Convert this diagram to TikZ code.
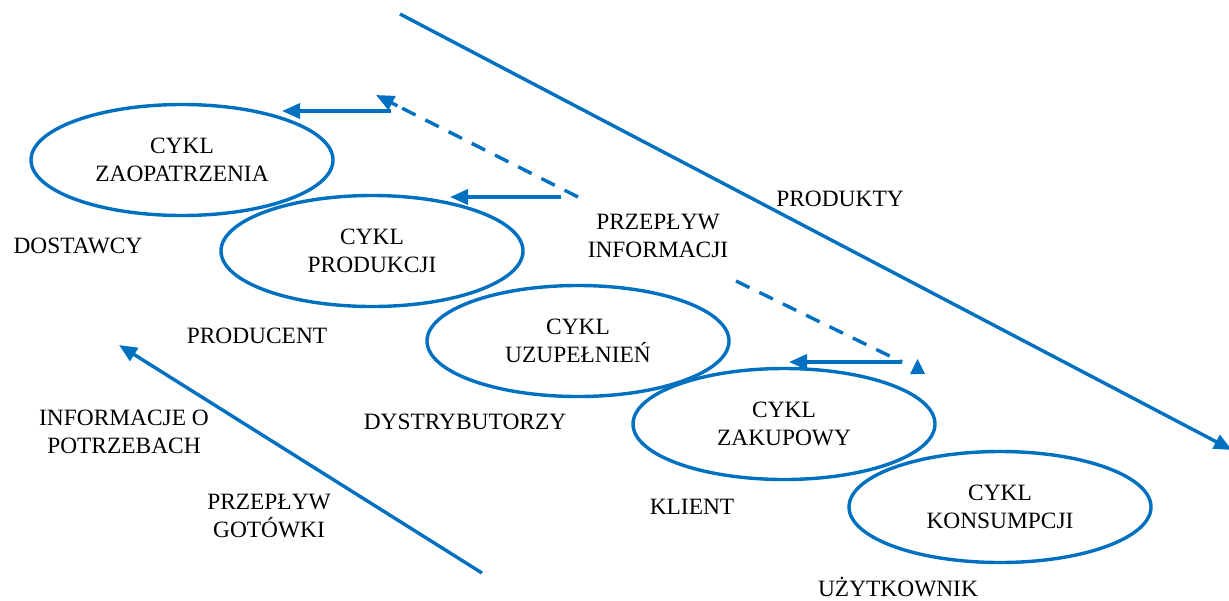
\documentclass[tikz,border=0pt]{standalone}
\usepackage{fontspec}
\setmainfont{Liberation Serif}
\usetikzlibrary{shapes.geometric,arrows.meta,calc}
\definecolor{flowblue}{RGB}{0,112,192}
\begin{document}
\begin{tikzpicture}[x=0.5pt,y=-0.5pt,
  txt/.style={font=\fontsize{11.7}{14}\selectfont, align=center, inner sep=0pt, text=black},
  cycle/.style={ellipse, draw=flowblue, line width=1.7pt, minimum width=151pt, minimum height=55.5pt, inner sep=0pt, txt},
  flow/.style={draw=flowblue, line width=1.7pt, -{Triangle[length=9pt,width=7.5pt]}},
  dashline/.style={draw=flowblue, line width=1.7pt, dash pattern=on 7.5pt off 5.5pt}
]
\useasboundingbox (0,0) rectangle (1229,600);

% cycles along the chain
\node[cycle] (zaop) at (182,160) {CYKL\\ZAOPATRZENIA};
\node[cycle] (prod) at (372,251) {CYKL\\PRODUKCJI};
\node[cycle] (uzup) at (578,341) {CYKL\\UZUPEŁNIEŃ};
\node[cycle] (zak)  at (784,424) {CYKL\\ZAKUPOWY};
\node[cycle] (kons) at (1000,507) {CYKL\\KONSUMPCJI};

% participants and flow labels
\node[txt] (dost)  at (78,246)  {DOSTAWCY};
\node[txt] (prodc) at (257,336) {PRODUCENT};
\node[txt] (dystr) at (465,422) {DYSTRYBUTORZY};
\node[txt] (klient) at (692,507) {KLIENT};
\node[txt] (uzytk) at (898,587) {UŻYTKOWNIK};
\node[txt] (produkty) at (840,199) {PRODUKTY};
\node[txt] (info) at (658,236) {PRZEPŁYW\\INFORMACJI};
\node[txt] (potrz) at (124,432) {INFORMACJE O\\POTRZEBACH};
\node[txt] (gotow) at (269,516) {PRZEPŁYW\\GOTÓWKI};

% end points of the flows
\coordinate (a1s) at (391,111);  \coordinate (a1e) at (282,111);
\coordinate (a2s) at (561,197);  \coordinate (a2e) at (450,197);
\coordinate (d1s) at (578,197);  \coordinate (d1e) at (376,95);
\coordinate (d1m) at ($(d1e)!12pt!(d1s)$);
\coordinate (d2s) at (736,281);  \coordinate (d2e) at (902,362);
\coordinate (h1s) at (902,362);  \coordinate (h1e) at (789,362);
\coordinate (ps)  at (400,14);   \coordinate (pe)  at (1232,450);
\coordinate (gs)  at (482,573);  \coordinate (ge)  at (119,345);

% information flows
\draw[flow] (a1s) -- (a1e);
\draw[flow] (a2s) -- (a2e);
\draw[dashline] (d1s) -- (d1m);
\draw[flow] (d1m) -- (d1e);
\draw[dashline] (d2s) -- (d2e);
\draw[flow] (h1s) -- (h1e);
\fill[flowblue] (910,374) -- (917.5,359) -- (925,374) -- cycle;

% product and cash flows
\draw[flow] (ps) -- (pe);
\draw[flow] (gs) -- (ge);
\end{tikzpicture}
\end{document}
